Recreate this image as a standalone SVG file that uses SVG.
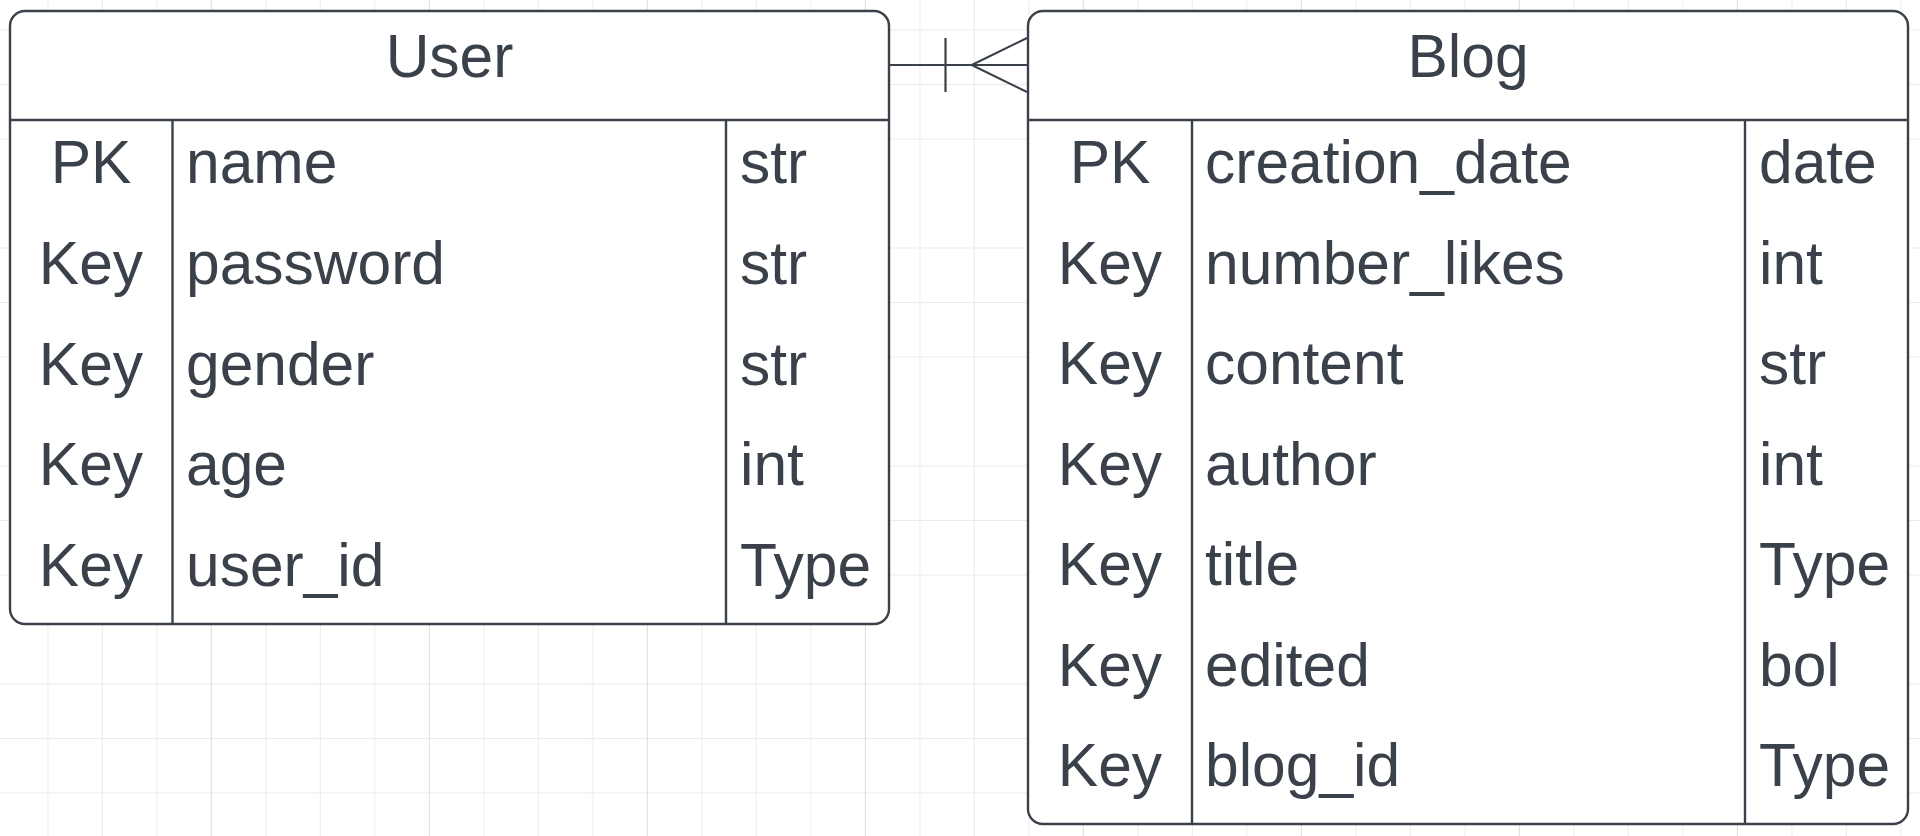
<svg xmlns="http://www.w3.org/2000/svg" width="1920" height="836" viewBox="0 0 1920 836">
  <defs>
    <pattern id="grid" patternUnits="userSpaceOnUse" x="-7.2" y="-25" width="218" height="218">
      <path d="M0.5 0V218M55 0V218M109.5 0V218M164 0V218M0 0.5H218M0 55H218M0 109.5H218M0 164H218" stroke="#ebebeb" stroke-width="1" fill="none"/>
      <path d="M0.5 0V218M0 0.5H218" stroke="#dcdcdc" stroke-width="1" fill="none"/>
    </pattern>
    <style>
      .box { fill: #ffffff; stroke: #3a414a; stroke-width: 2.4; }
      .ln { stroke: #3a414a; stroke-width: 2.4; fill: none; }
      .cn { stroke: #3a414a; stroke-width: 2.2; fill: none; }
      text { font-family: "Liberation Sans", Arial, sans-serif; font-size: 60.5px; fill: #3a414a; }
      .c { text-anchor: middle; }
    </style>
  </defs>
  <rect x="0" y="0" width="1920" height="836" fill="#ffffff"/>
  <rect x="0" y="0" width="1920" height="836" fill="url(#grid)"/>

  <g id="connectors">
    <path class="cn" d="M889 65H1028"/>
    <path class="cn" d="M945.5 38V92"/>
    <path class="cn" d="M1027 38L971.7 65L1027 92"/>
  </g>

  <g id="user">
    <rect class="box" x="10" y="11" width="879" height="613" rx="15" ry="15"/>
    <path class="ln" d="M10 120H889M172.5 120V624M726 120V624"/>
    <text class="c" x="449.5" y="77">User</text>
    <g>
      <text class="c" x="91" y="183">PK</text>
      <text x="186" y="183">name</text>
      <text x="740" y="183">str</text>
    </g>
    <g>
      <text class="c" x="91" y="284">Key</text>
      <text x="186" y="284">password</text>
      <text x="740" y="284">str</text>
    </g>
    <g>
      <text class="c" x="91" y="384.6">Key</text>
      <text x="186" y="384.6">gender</text>
      <text x="740" y="384.6">str</text>
    </g>
    <g>
      <text class="c" x="91" y="485.4">Key</text>
      <text x="186" y="485.4">age</text>
      <text x="740" y="485.4">int</text>
    </g>
    <g>
      <text class="c" x="91" y="586.2">Key</text>
      <text x="186" y="586.2">user_id</text>
      <text x="740" y="586.2">Type</text>
    </g>
  </g>

  <g id="blog">
    <rect class="box" x="1028" y="11" width="880" height="813" rx="15" ry="15"/>
    <path class="ln" d="M1028 120H1908M1192 120V824M1745 120V824"/>
    <text class="c" x="1468" y="77">Blog</text>
    <g>
      <text class="c" x="1110" y="183">PK</text>
      <text x="1205" y="183">creation_date</text>
      <text x="1759" y="183">date</text>
    </g>
    <g>
      <text class="c" x="1110" y="283.6">Key</text>
      <text x="1205" y="283.6">number_likes</text>
      <text x="1759" y="283.6">int</text>
    </g>
    <g>
      <text class="c" x="1110" y="384.1">Key</text>
      <text x="1205" y="384.1">content</text>
      <text x="1759" y="384.1">str</text>
    </g>
    <g>
      <text class="c" x="1110" y="484.7">Key</text>
      <text x="1205" y="484.7">author</text>
      <text x="1759" y="484.7">int</text>
    </g>
    <g>
      <text class="c" x="1110" y="585.3">Key</text>
      <text x="1205" y="585.3">title</text>
      <text x="1759" y="585.3">Type</text>
    </g>
    <g>
      <text class="c" x="1110" y="685.9">Key</text>
      <text x="1205" y="685.9">edited</text>
      <text x="1759" y="685.9">bol</text>
    </g>
    <g>
      <text class="c" x="1110" y="786.4">Key</text>
      <text x="1205" y="786.4">blog_id</text>
      <text x="1759" y="786.4">Type</text>
    </g>
  </g>
</svg>
